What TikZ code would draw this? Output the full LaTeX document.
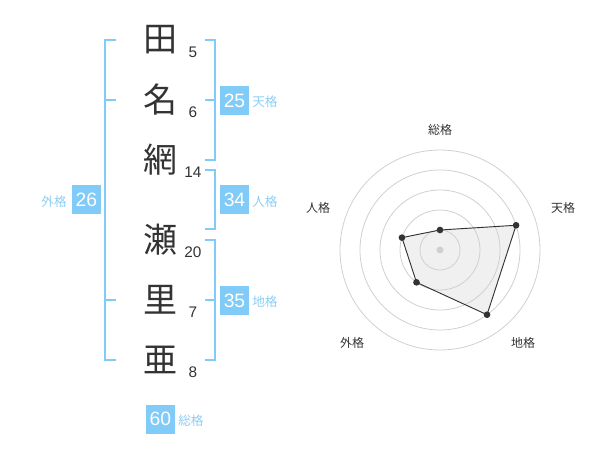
\documentclass[tikz,border=0pt]{standalone}
\usepackage{fontspec}
\setmainfont{Liberation Sans}
\newfontfamily\cjk{Noto Sans CJK JP}
\usetikzlibrary{calc}
\definecolor{kakublue}{HTML}{80CBF8}
\definecolor{kakutext}{HTML}{8CCEF4}
\definecolor{ringgray}{HTML}{D0D0D0}
\definecolor{inkgray}{HTML}{333333}
\definecolor{radarfill}{HTML}{F0F0F0}

\begin{document}
\begin{tikzpicture}[x=0.75pt,y=-0.75pt,
  kanji/.style={font=\cjk\fontsize{25.5}{26}\selectfont,text=inkgray,inner sep=0pt},
  stroke/.style={font=\fontsize{11.5}{12}\selectfont,text=inkgray,inner sep=0pt},
  kakubox/.style={fill=kakublue,text=white,minimum size=21.75pt,inner sep=0pt,font=\fontsize{14.5}{15}\selectfont},
  kakuname/.style={font=\cjk\fontsize{9.5}{10}\selectfont,text=kakutext,inner sep=0pt},
  bracket/.style={draw=kakublue,line width=1.5pt},
  axisname/.style={font=\cjk\fontsize{9}{10}\selectfont,text=inkgray,inner sep=0pt},
  vdot/.style={circle,fill=inkgray,inner sep=0pt,minimum size=5pt}]
\useasboundingbox (0,0) rectangle (600,470);

% name
\node[kanji] (c1) at (160,40) {田};
\node[kanji] (c2) at (160,100) {名};
\node[kanji] (c3) at (160,160) {網};
\node[kanji] (c4) at (160,240) {瀬};
\node[kanji] (c5) at (160,300) {里};
\node[kanji] (c6) at (160,360) {亜};
\node[stroke] (n1) at (193,52) {5};
\node[stroke] (n2) at (193,112) {6};
\node[stroke] (n3) at (193,172) {14};
\node[stroke] (n4) at (193,252) {20};
\node[stroke] (n5) at (193,312) {7};
\node[stroke] (n6) at (193,372) {8};

% brackets
\draw[bracket] (116,40)--(105,40)--(105,360)--(116,360) (105,100)--(116,100) (105,300)--(116,300);
\draw[bracket] (205,40)--(215,40)--(215,160)--(205,160) (205,100)--(215,100);
\draw[bracket] (205,170)--(215,170)--(215,229)--(205,229);
\draw[bracket] (205,240)--(215,240)--(215,360)--(205,360) (205,300)--(215,300);

% boxes
\node[kakubox] (ten) at (234.5,100.5) {25};
\node[kakuname,anchor=west] (tenl) at (252,102) {天格};
\node[kakubox] (jin) at (234.5,200) {34};
\node[kakuname,anchor=west] (jinl) at (252,202) {人格};
\node[kakubox] (chi) at (234.5,300.5) {35};
\node[kakuname,anchor=west] (chil) at (252,302) {地格};
\node[kakubox] (gai) at (86.5,200) {26};
\node[kakuname,anchor=east] (gail) at (67,202) {外格};
\node[kakubox] (sou) at (160.5,419) {60};
\node[kakuname,anchor=west] (soul) at (178,421) {総格};

% radar
\coordinate (o) at (440,250);
\coordinate (ps) at ($(o)+(-90:20)$);
\coordinate (pt) at ($(o)+(-18:80)$);
\coordinate (pc) at ($(o)+(54:80)$);
\coordinate (pg) at ($(o)+(126:40)$);
\coordinate (pj) at ($(o)+(198:40)$);
\fill[radarfill] (ps)--(pt)--(pc)--(pg)--(pj)--cycle;
\foreach \r in {20,40,60,80,100}
  \draw[ringgray,line width=0.6pt] (o) circle (\r);
\fill[ringgray] (o) circle (3.5);
\draw[inkgray,line width=0.7pt] (ps)--(pt)--(pc)--(pg)--(pj)--cycle;
\foreach \p in {ps,pt,pc,pg,pj}
  \node[vdot] at (\p) {};
\node[axisname] (as) at (440,130) {総格};
\node[axisname] (at) at (563,208) {天格};
\node[axisname] (ac) at (523,343) {地格};
\node[axisname] (ag) at (352,343) {外格};
\node[axisname] (aj) at (318,208) {人格};
\end{tikzpicture}
\end{document}
